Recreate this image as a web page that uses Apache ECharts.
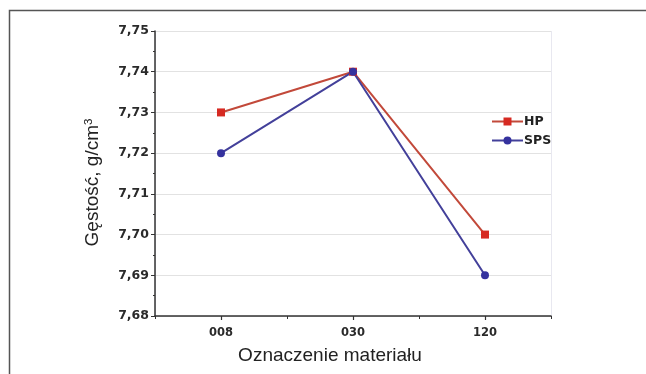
<!DOCTYPE html>
<html>
<head>
<meta charset="utf-8">
<script src="https://cdn.jsdelivr.net/npm/echarts@6/dist/echarts.min.js"></script>
<style>html,body{margin:0;padding:0;background:#fff}#c{width:646px;height:374px}</style>
</head>
<body>
<div id="c"></div>
<script>
var categories = ['008', '030', '120'];
var hpValues = [7.73, 7.74, 7.70];
var spsValues = [7.72, 7.74, 7.69];
var yMin = 7.68, yMax = 7.75, yStep = 0.01;

var chart = echarts.init(document.getElementById('c'), null, {renderer: 'canvas'});
var boldFont = 'DejaVu Sans';
chart.setOption({
  animation: false,
  backgroundColor: '#fff',
  graphic: [{
    type: 'polyline', silent: true,
    shape: {points: [[9.5, 374], [9.5, 10.5], [646, 10.5]]},
    style: {stroke: '#555', lineWidth: 1.5, fill: null}
  }],
  grid: {left: 155, right: 95, top: 31, bottom: 58, containLabel: false},
  legend: {
    orient: 'vertical', left: 486, top: 110, itemWidth: 31, itemHeight: 10, itemGap: 6,
    textStyle: {color: '#222', fontFamily: boldFont, fontWeight: 'bold', fontSize: 12.5, padding: [0, 0, 0, -4]},
    data: ['HP', 'SPS']
  },
  xAxis: [{
    type: 'category', data: categories, boundaryGap: true,
    name: 'Oznaczenie materiału', nameLocation: 'middle', nameGap: 30,
    nameTextStyle: {color: '#222', fontFamily: 'Liberation Sans, Arial', fontSize: 19, padding: [0, 46, 0, 0]},
    axisLine: {lineStyle: {color: '#333', width: 1.5}},
    axisTick: {show: true, length: 3, lineStyle: {color: '#333'}},
    axisLabel: {margin: 11, color: '#2a2a2a', fontFamily: boldFont, fontWeight: 'bold', fontSize: 11.5},
    splitLine: {show: true, interval: function (i) { return i === 1; }, lineStyle: {color: '#ebebf0', width: 1}}
  }, {
    type: 'category', data: categories, boundaryGap: true, position: 'bottom',
    axisLine: {show: false},
    axisTick: {show: true, alignWithLabel: true, length: 4, lineStyle: {color: '#333', width: 1.2}},
    axisLabel: {show: false},
    splitLine: {show: true, interval: function (i) { return i === 2; }, lineStyle: {color: '#e8e8f0', width: 1}}
  }],
  yAxis: {
    type: 'value', min: yMin, max: yMax, interval: yStep,
    name: 'Gęstość, g/cm{sup|3}', nameLocation: 'middle', nameGap: 52,
    nameTextStyle: {color: '#222', fontFamily: 'Liberation Sans, Arial', fontSize: 19, padding: [0, 18, 0, 0],
      rich: {sup: {fontSize: 11.5, verticalAlign: 'top', color: '#222', fontFamily: 'Liberation Sans, Arial', padding: [0, 0, 8, 0]}}},
    axisLine: {show: true, lineStyle: {color: '#333', width: 1.5}},
    axisTick: {show: true, length: 4, lineStyle: {color: '#333'}},
    minorTick: {show: true, splitNumber: 2, length: 2, lineStyle: {color: '#333'}},
    axisLabel: {margin: 6, color: '#2a2a2a', fontFamily: boldFont, fontWeight: 'bold', fontSize: 12.5,
      formatter: function (v) { return v.toFixed(2).replace('.', ','); }},
    splitLine: {show: true, lineStyle: {color: '#e2e2e2', width: 1}}
  },
  series: [{
    name: 'HP', type: 'line', data: hpValues, symbol: 'rect', symbolSize: 8, z: 3,
    lineStyle: {color: '#c2493a', width: 2},
    itemStyle: {color: '#d62a22'}
  }, {
    name: 'SPS', type: 'line', data: spsValues, symbol: 'circle', symbolSize: 8, z: 3,
    lineStyle: {color: '#43409a', width: 2},
    itemStyle: {color: '#35329e'}
  }]
});
</script>
</body>
</html>
